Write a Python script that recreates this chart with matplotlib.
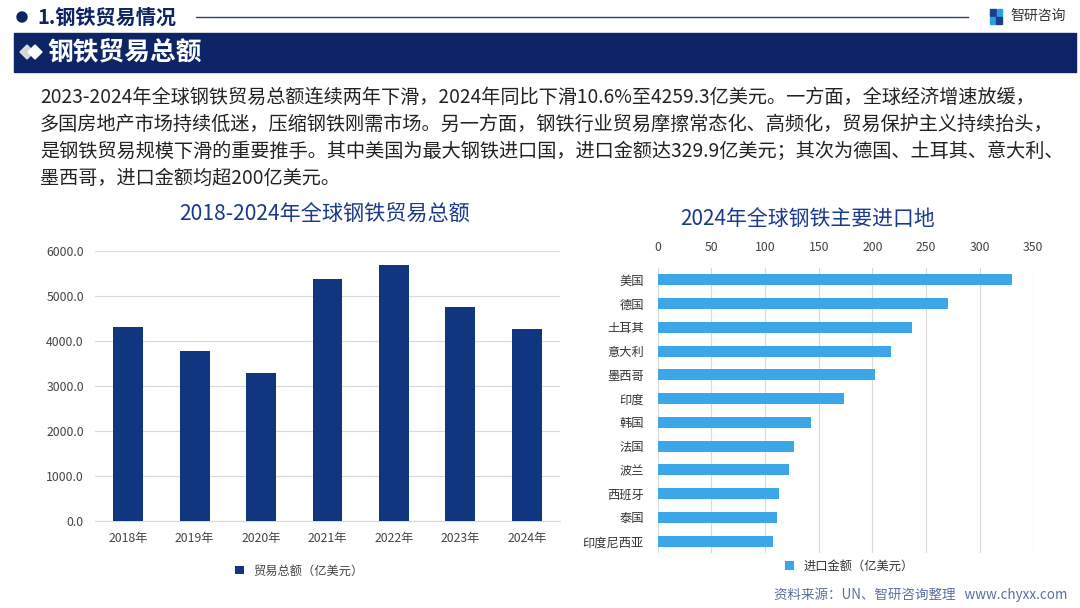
import matplotlib
matplotlib.use("Agg")
import matplotlib.pyplot as plt
from matplotlib.patches import Rectangle, Polygon, Circle
import numpy as np

plt.rcParams['font.family'] = ['Noto Sans CJK SC', 'DejaVu Sans']

# ---- data ----
years = ["2018年", "2019年", "2020年", "2021年", "2022年", "2023年", "2024年"]
trade_total = [4318, 3785, 3281, 5370, 5690, 4764, 4259.3]
left_yticks = [0, 1000, 2000, 3000, 4000, 5000, 6000]

countries = ["美国", "德国", "土耳其", "意大利", "墨西哥", "印度", "韩国", "法国",
             "波兰", "西班牙", "泰国", "印度尼西亚"]
import_value = [329.9, 270.8, 237.0, 217.4, 202.5, 173.9, 142.5, 126.7,
                122.3, 112.7, 111.2, 107.4]
right_xticks = [0, 50, 100, 150, 200, 250, 300, 350]

W, H = 1080, 608
fig = plt.figure(figsize=(W / 100, H / 100), dpi=100)
bg = fig.add_axes([0, 0, 1, 1])
bg.set_xlim(0, W)
bg.set_ylim(H, 0)
bg.axis('off')

navy = "#0d2566"
# header
bg.add_patch(Circle((22, 17), 5, color=navy))
bg.text(37, 17, "1.钢铁贸易情况", fontsize=14.5, fontweight='bold', color=navy, va='center', ha='left')
bg.plot([196, 968], [17, 17], color="#2b3f7a", lw=1)
# logo
bg.add_patch(Rectangle((990, 9), 6, 7, color="#1b3f8f"))
bg.add_patch(Rectangle((997, 9), 5, 7, color="#2a9ee0"))
bg.add_patch(Rectangle((990, 17), 5, 7, color="#2a9ee0"))
bg.add_patch(Rectangle((996, 17), 6, 7, color="#1b3f8f"))
bg.text(1010, 16, "智研咨询", fontsize=10, color="#333333", va='center', ha='left')

# banner
bg.add_patch(Rectangle((14, 33), 1062, 39, color=navy))
bg.add_patch(Polygon([[20, 52], [27, 45], [34, 52], [27, 59]], closed=True, color="#d8d8d8"))
bg.add_patch(Polygon([[28, 52], [35, 45], [42, 52], [35, 59]], closed=True, color="white"))
bg.text(47, 52, "钢铁贸易总额", fontsize=18.5, fontweight='bold', color='white', va='center', ha='left')

# paragraph
para = [
    "2023-2024年全球钢铁贸易总额连续两年下滑，2024年同比下滑10.6%至4259.3亿美元。一方面，全球经济增速放缓，",
    "多国房地产市场持续低迷，压缩钢铁刚需市场。另一方面，钢铁行业贸易摩擦常态化、高频化，贸易保护主义持续抬头，",
    "是钢铁贸易规模下滑的重要推手。其中美国为最大钢铁进口国，进口金额达329.9亿美元；其次为德国、土耳其、意大利、",
    "墨西哥，进口金额均超200亿美元。",
]
for i, line in enumerate(para):
    bg.text(40, 97 + i * 27, line, fontsize=13.8, color="#222222", va='center', ha='left')

# ---- left chart ----
bg.text(325, 214, "2018-2024年全球钢铁贸易总额", fontsize=15.2, fontweight='medium',
        color="#1a3a8a", va='center', ha='center')
axL = fig.add_axes([95 / W, 1 - 521 / H, (560 - 95) / W, (521 - 251) / H])
x = np.arange(len(years))
axL.bar(x, trade_total, width=0.45, color="#10367f", zorder=3, label="贸易总额（亿美元）")
axL.set_xlim(-0.5, len(years) - 0.5)
axL.set_ylim(0, 6000)
axL.set_yticks(left_yticks)
axL.set_yticklabels([f"{v:.1f}" for v in left_yticks], fontsize=8.8, color="#444444")
axL.set_xticks(x)
axL.set_xticklabels(years, fontsize=8.8, color="#444444")
axL.grid(axis='y', color="#d9d9d9", lw=0.8, zorder=0)
for s in axL.spines.values():
    s.set_visible(False)
axL.spines['bottom'].set_visible(True)
axL.spines['bottom'].set_color("#d9d9d9")
axL.tick_params(length=0, pad=8)
axL.legend(loc='upper center', bbox_to_anchor=(0.44, -0.12), frameon=False, fontsize=8.8,
           handlelength=0.7, handleheight=0.7, labelcolor="#444444")

# ---- right chart ----
bg.text(808, 220, "2024年全球钢铁主要进口地", fontsize=15, fontweight='medium',
        color="#1a3a8a", va='center', ha='center')
axR = fig.add_axes([657.7 / W, 1 - 553 / H, (1033.3 - 657.7) / W, (553 - 268) / H])
y = np.arange(len(countries))
axR.barh(y, import_value, height=0.46, color="#3ba7e8", zorder=3, label="进口金额（亿美元）")
axR.set_ylim(len(countries) - 0.5, -0.5)
axR.set_xlim(0, 350)
axR.set_xticks(right_xticks)
axR.set_xticklabels([str(v) for v in right_xticks], fontsize=8.8, color="#444444")
axR.xaxis.tick_top()
axR.set_yticks(y)
axR.set_yticklabels(countries, fontsize=8.8, color="#333333")
axR.grid(axis='x', color="#d9d9d9", lw=0.8, zorder=0)
for s in axR.spines.values():
    s.set_visible(False)
axR.tick_params(length=0, pad=10)
axR.tick_params(axis='y', pad=10)
axR.legend(loc='upper center', bbox_to_anchor=(0.51, 0.015), frameon=False, fontsize=8.8,
           handlelength=0.7, handleheight=0.7, labelcolor="#333333")

bg.text(1067, 595, "资料来源：UN、智研咨询整理   www.chyxx.com", fontsize=9.7, color="#5a6fa0",
        va='center', ha='right')

fig.savefig("out.png", dpi=100)
